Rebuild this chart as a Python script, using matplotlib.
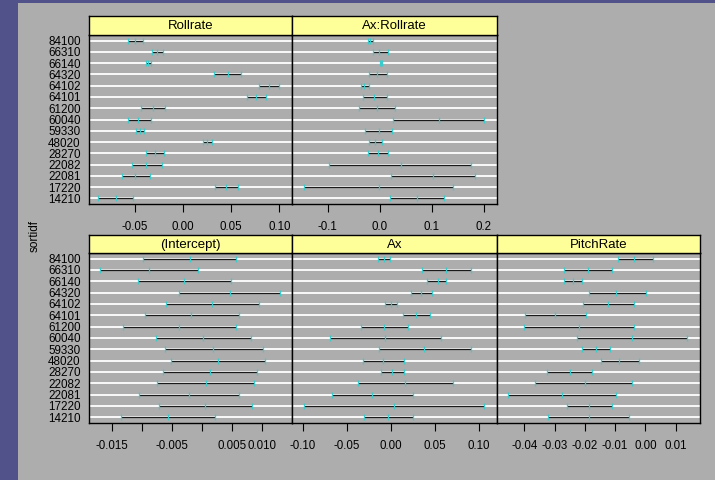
import numpy as np
import matplotlib
matplotlib.use("Agg")
import matplotlib.pyplot as plt
from matplotlib.patches import Rectangle

plt.rcParams['font.family'] = ['Liberation Sans', 'DejaVu Sans']

# =====================
# Données
# =====================
ids = ["84100", "66310", "66140", "64320", "64102", "64101", "61200", "60040",
       "59330", "48020", "28270", "22082", "22081", "17220", "14210"]

rollrate_lo = [-0.0576, -0.0327, -0.0386, 0.0325, 0.0786, 0.0667, -0.0434, -0.0576,
               -0.0486, 0.0210, -0.0386, -0.0531, -0.0632, 0.0329, -0.0886]
rollrate_mid = [-0.0500, -0.0268, -0.0362, 0.0464, 0.0897, 0.0758, -0.0316, -0.0466,
                -0.0448, 0.0252, -0.0289, -0.0386, -0.0497, 0.0446, -0.0698]
rollrate_hi = [-0.0414, -0.0206, -0.0337, 0.0599, 0.1000, 0.0859, -0.0191, -0.0337,
               -0.0403, 0.0304, -0.0199, -0.0222, -0.0347, 0.0571, -0.0524]

axroll_lo = [-0.0231, -0.0141, 0.0000, -0.0199, -0.0359, -0.0314, -0.0391, 0.0244,
             -0.0282, -0.0199, -0.0231, -0.0974, 0.0218, -0.1449, 0.0192]
axroll_mid = [-0.0186, -0.0013, 0.0019, -0.0045, -0.0295, -0.0103, -0.0064, 0.1128,
              -0.0019, -0.0096, -0.0038, 0.0397, 0.1019, -0.0019, 0.0705]
axroll_hi = [-0.0135, 0.0154, 0.0051, 0.0128, -0.0212, 0.0128, 0.0288, 0.2000,
             0.0224, 0.0038, 0.0154, 0.1756, 0.1833, 0.1404, 0.1231]

intercept_lo = [-0.00985, -0.01688, -0.01057, -0.00381, -0.00592, -0.00941, -0.01317, -0.00758,
                -0.00609, -0.00520, -0.00642, -0.00747, -0.01040, -0.00708, -0.01345]
intercept_mid = [-0.00199, -0.00874, -0.00293, 0.00460, 0.00172, -0.00177, -0.00381, 0.00017,
                 0.00183, 0.00266, 0.00133, 0.00073, -0.00221, 0.00050, -0.00559]
intercept_hi = [0.00571, -0.00060, 0.00488, 0.01291, 0.00942, 0.00610, 0.00571, 0.00809,
                0.01008, 0.01053, 0.00909, 0.00870, 0.00610, 0.00826, 0.00216]

ax_lo = [-0.0152, 0.0357, 0.0414, 0.0228, -0.0068, 0.0137, -0.0342, -0.0696,
         -0.0141, -0.0316, -0.0118, -0.0376, -0.0665, -0.0989, -0.0304]
ax_mid = [-0.0076, 0.0631, 0.0529, 0.0342, 0.0000, 0.0289, -0.0076, -0.0068,
          0.0380, -0.0091, 0.0015, 0.0156, -0.0213, 0.0038, -0.0030]
ax_hi = [-0.0008, 0.0909, 0.0631, 0.0468, 0.0072, 0.0449, 0.0190, 0.0563,
         0.0909, 0.0148, 0.0148, 0.0703, 0.0255, 0.1053, 0.0251]

pitch_lo = [-0.0092, -0.0268, -0.0270, -0.0188, -0.0205, -0.0397, -0.0402, -0.0227,
            -0.0209, -0.0148, -0.0324, -0.0364, -0.0453, -0.0260, -0.0321]
pitch_mid = [-0.0036, -0.0190, -0.0241, -0.0096, -0.0123, -0.0298, -0.0221, -0.0044,
             -0.0164, -0.0086, -0.0248, -0.0201, -0.0275, -0.0186, -0.0188]
pitch_hi = [0.0024, -0.0110, -0.0210, 0.0001, -0.0036, -0.0198, -0.0037, 0.0138,
            -0.0118, -0.0022, -0.0175, -0.0043, -0.0098, -0.0109, -0.0053]

rollrate_ticks = [-0.05, 0.0, 0.05, 0.10]
rollrate_labels = ["-0.05", "0.00", "0.05", "0.10"]
axroll_ticks = [-0.1, 0.0, 0.1, 0.2]
axroll_labels = ["-0.1", "0.0", "0.1", "0.2"]
intercept_ticks = [-0.015, -0.010, -0.005, 0.0, 0.005, 0.010]
intercept_labels = ["-0.015", "", "-0.005", "", "0.005", "0.010"]
ax_ticks = [-0.10, -0.05, 0.0, 0.05, 0.10]
ax_labels = ["-0.10", "-0.05", "0.00", "0.05", "0.10"]
pitch_ticks = [-0.04, -0.03, -0.02, -0.01, 0.0, 0.01]
pitch_labels = ["-0.04", "-0.03", "-0.02", "-0.01", "0.00", "0.01"]

# =====================
# Figure
# =====================
W, H = 715, 480
fig = plt.figure(figsize=(7.15, 4.80), dpi=100)
fig.patch.set_facecolor("#adadad")
# bande bleue (fond de diapo)
fig.patches.append(Rectangle((0, 0), 18 / W, 1, transform=fig.transFigure,
                             facecolor="#52528a", edgecolor="none", zorder=0))
fig.patches.append(Rectangle((0, 1 - 3 / H), 1, 3 / H, transform=fig.transFigure,
                             facecolor="#52528a", edgecolor="none", zorder=0))

cols_px = [(89, 292), (292, 497), (497, 700)]
rows_px = [(35, 204, 16), (253, 423, 235)]

yrows = np.arange(len(ids))[::-1] + 1
strip_font = 9.5
tick_font = 8.3
id_font = 8.4


def panel(col, row, title, lo, mid, hi, xlim, ticks, labels, show_ids):
    x0, x1 = cols_px[col]
    top, bot, stop = rows_px[row]
    ax = fig.add_axes([x0 / W, (H - bot) / H, (x1 - x0) / W, (bot - top) / H])
    ax.set_facecolor("#adadad")
    ax.set_xlim(*xlim)
    ax.set_ylim(0.5, len(ids) + 0.5)
    ax.set_yticks(yrows)
    ax.set_yticklabels(ids if show_ids else [], fontsize=id_font)
    ax.tick_params(axis="y", length=0, pad=6)
    ax.yaxis.grid(True, color="white", linewidth=1.3)
    ax.set_axisbelow(True)
    ax.set_xticks(ticks)
    ax.set_xticklabels(labels, fontsize=tick_font)
    ax.tick_params(axis="x", length=5.5, width=0.8, pad=6.5, direction="out")
    for s in ax.spines.values():
        s.set_linewidth(1.0)
    ax.hlines(yrows, lo, hi, color="#1a1a1a", linewidth=0.9, zorder=3)
    for vals in (lo, mid, hi):
        ax.plot(vals, yrows, linestyle="none", marker="|", markersize=5,
                markeredgewidth=0.9, color="#38cccc", zorder=4)
    # bandeau du titre
    st = fig.add_axes([x0 / W, (H - top) / H, (x1 - x0) / W, (top - stop) / H])
    st.set_facecolor("#ffff99")
    st.set_xticks([])
    st.set_yticks([])
    for s in st.spines.values():
        s.set_linewidth(1.0)
    st.text(0.5, 0.45, title, ha="center", va="center", fontsize=strip_font,
            transform=st.transAxes)
    return ax


panel(0, 0, "Rollrate", rollrate_lo, rollrate_mid, rollrate_hi,
      (-0.0978, 0.1132), rollrate_ticks, rollrate_labels, True)
panel(1, 0, "Ax:Rollrate", axroll_lo, axroll_mid, axroll_hi,
      (-0.1687, 0.225), axroll_ticks, axroll_labels, False)
panel(0, 1, "(Intercept)", intercept_lo, intercept_mid, intercept_hi,
      (-0.01877, 0.01493), intercept_ticks, intercept_labels, True)
panel(1, 1, "Ax", ax_lo, ax_mid, ax_hi,
      (-0.1125, 0.1205), ax_ticks, ax_labels, False)
panel(2, 1, "PitchRate", pitch_lo, pitch_mid, pitch_hi,
      (-0.0491, 0.0181), pitch_ticks, pitch_labels, False)

fig.text(35 / W, 1 - 236 / H, "sortidf", rotation=90, ha="center", va="center",
         fontsize=8.5)

fig.savefig("out.png", dpi=100, facecolor=fig.get_facecolor())
